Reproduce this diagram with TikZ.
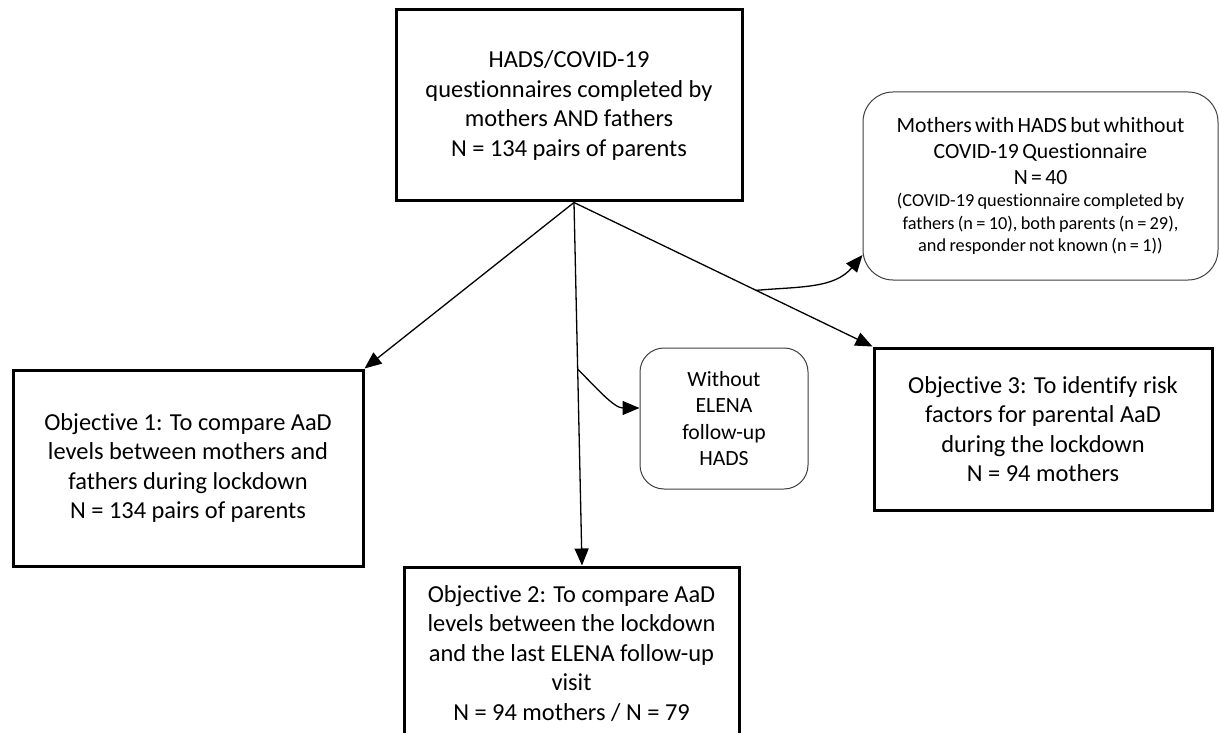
\documentclass[tikz,border=0pt]{standalone}
\usepackage{fontspec}
\setmainfont{Carlito}[RawFeature={-liga;-clig;-calt;-dlig}]
\usetikzlibrary{arrows.meta,calc}
\begin{document}
\begin{tikzpicture}[x=1pt,y=-1pt,
  mainbox/.style={draw, line width=3pt, rectangle, align=center, inner sep=0pt,
    font=\fontsize{24.4pt}{29.5pt}\selectfont},
  softbox/.style={draw=black!75, line width=1pt, rectangle, align=center, inner sep=0pt},
  arr/.style={line width=1.3pt, -{Triangle[length=17pt,width=14pt]}}]
\clip (0,0) rectangle (1219,733);
\fill[white] (0,0) rectangle (1219,733);

\node[mainbox, minimum width=346pt, minimum height=191pt] (top) at (569,105.5)
  {HADS/COVID-19\\questionnaires completed by\\mothers AND fathers\\N = 134 pairs of parents};

\node[mainbox, minimum width=350pt, minimum height=196pt] (obj1) at (188,468)
  {Objective 1: To compare AaD\\levels between mothers and\\fathers during lockdown\\N = 134 pairs of parents};

\node[mainbox, minimum width=335pt, minimum height=173pt] (obj2) at (571.5,653.5)
  {Objective 2: To compare AaD\\levels between the lockdown\\and the last ELENA follow-up\\visit\\N = 94 mothers / N = 79};

\node[mainbox, minimum width=338pt, minimum height=162pt] (obj3) at (1043,429)
  {Objective 3: To identify risk\\factors for parental AaD\\during the lockdown\\N = 94 mothers};

\node[softbox, rounded corners=24pt, minimum width=168pt, minimum height=141pt,
  font=\fontsize{21.7pt}{26.5pt}\selectfont] (wo) at (724,418.5)
  {Without\\ELENA\\follow-up\\HADS};

\node[softbox, rounded corners=30pt, minimum width=355pt, minimum height=188pt,
  text width=350pt] (mb) at (1040.5,186)
  {{\fontsize{21.7pt}{26pt}\selectfont Mothers with HADS but whithout\\COVID-19 Questionnaire\\N = 40\par}%
   {\fontsize{18.3pt}{22.3pt}\selectfont (COVID-19 questionnaire completed by\\fathers (n = 10), both parents (n = 29),\\and responder not known (n = 1))\par}};

\path (574,0) coordinate (jx) (582,0) coordinate (t2x);
\coordinate (j) at (top.south -| jx);
\coordinate (t2) at (obj2.north -| t2x);

\draw[arr] (j) -- (obj1.north east);
\draw[arr] (j) -- (t2);
\draw[arr] (j) -- (obj3.north west);

\coordinate (c1) at ($(j)!0.459!(t2)$);
\coordinate (c2) at ($(j)!0.61!(obj3.north west)$);
\draw[arr] (c1) to[out=-45,in=180,looseness=0.9] ([yshift=10.5pt]wo.west);
\draw[arr] (c2) to[out=5,in=-130] ([yshift=-69pt]mb.west);
\end{tikzpicture}
\end{document}
